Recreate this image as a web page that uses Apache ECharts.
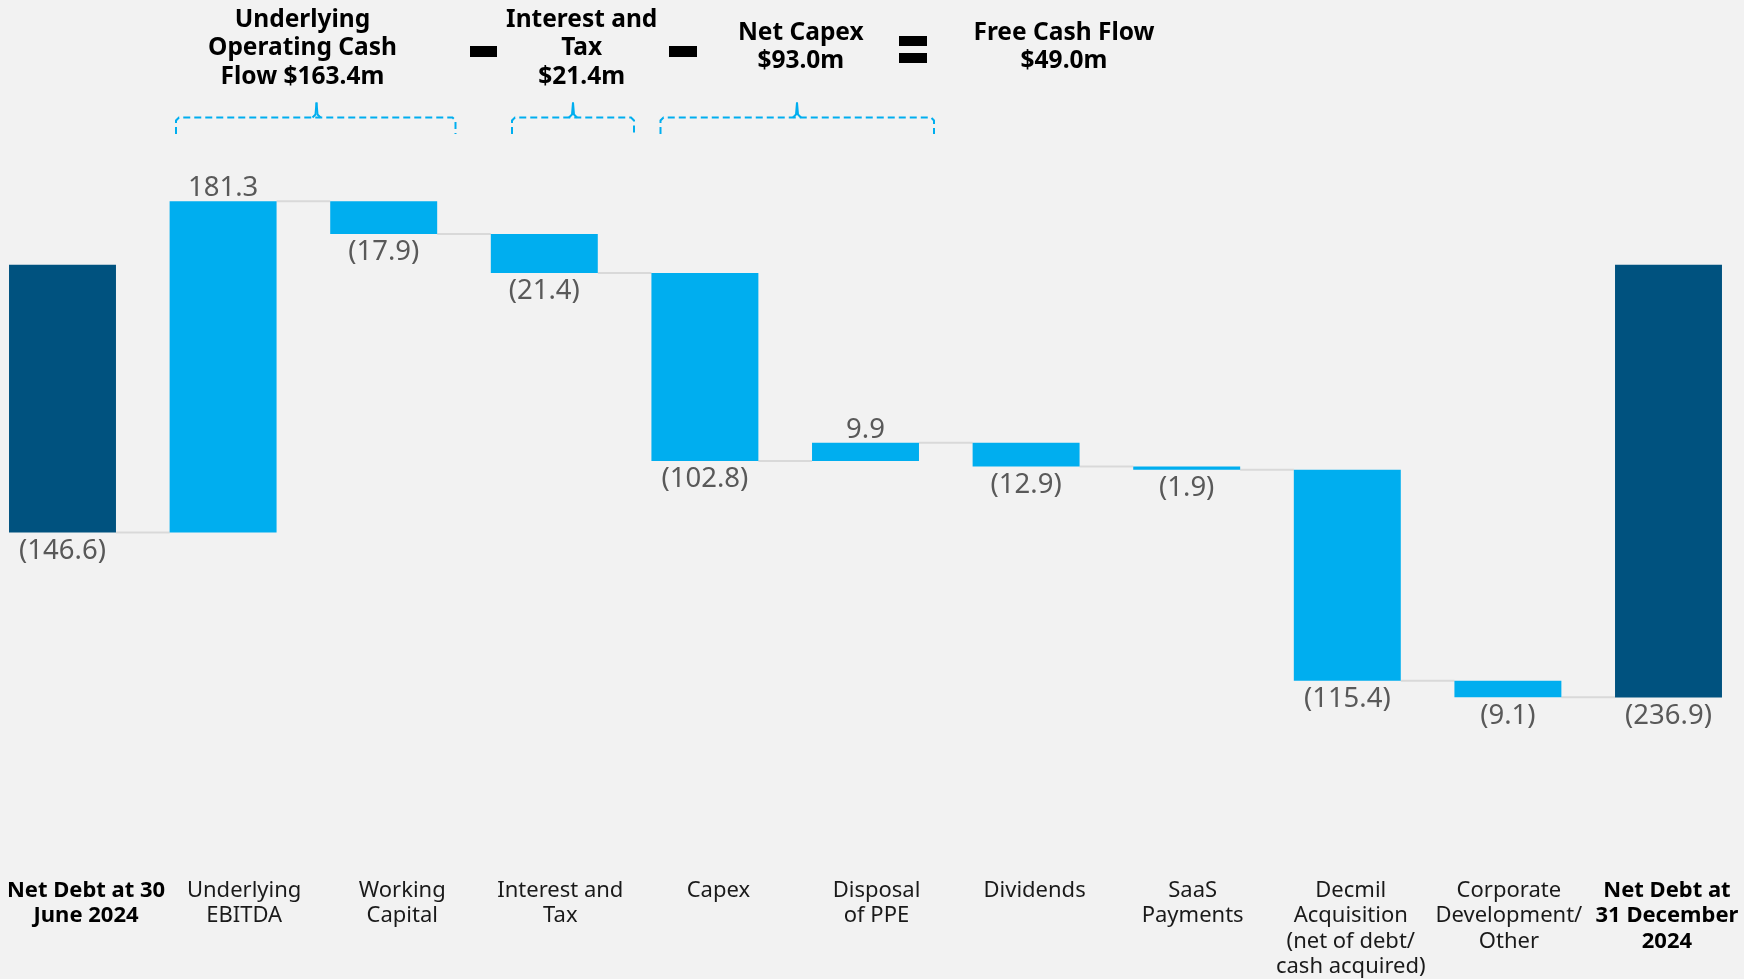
<!DOCTYPE html>
<html>
<head>
<meta charset="utf-8">
<script src="https://cdn.jsdelivr.net/npm/echarts@6/dist/echarts.min.js"></script>
<style>
  html, body { margin: 0; padding: 0; background: #F2F2F2; }
  #chart { width: 1744px; height: 979px; }
</style>
</head>
<body>
<div id="chart"></div>
<script>
// ---- Data ----
const categories = [
  'Net Debt at 30\nJune 2024',
  'Underlying\nEBITDA',
  'Working\nCapital',
  'Interest and\nTax',
  'Capex',
  'Disposal\nof PPE',
  'Dividends',
  'SaaS\nPayments',
  'Decmil\nAcquisition\n(net of debt/\ncash acquired)',
  'Corporate\nDevelopment/\nOther',
  'Net Debt at\n31 December\n2024'
];
const values = [-146.6, 181.3, -17.9, -21.4, -102.8, 9.9, -12.9, -1.9, -115.4, -9.1, -236.9];
const isTotal = [true, false, false, false, false, false, false, false, false, false, true];
const headerBlocks = [
  'Underlying\nOperating Cash\nFlow $163.4m',
  'Interest and\nTax\n$21.4m',
  'Net Capex\n$93.0m',
  'Free Cash Flow\n$49.0m'
];

// ---- Build waterfall rows [index, start, end, value] ----
const rows = [];
let level = 0;
values.forEach((v, i) => {
  let s, e;
  if (isTotal[i]) { s = 0; e = v; }
  else { s = level; e = level + v; }
  level = e;
  rows.push([i, s, e, v]);
});

const LIGHT = '#00AEEF';
const DARK = '#00527F';
const FONT = '"Noto Sans", "DejaVu Sans", sans-serif';

const chart = echarts.init(document.getElementById('chart'));

function fmt(v) {
  return v < 0 ? '(' + Math.abs(v).toFixed(1) + ')' : v.toFixed(1);
}

function renderItem(params, api) {
  const i = api.value(0);
  const s = api.value(1), e = api.value(2), v = api.value(3);
  const band = api.size([1, 0])[0];
  const bw = band * 0.666;
  const p1 = api.coord([i, s]);
  const p2 = api.coord([i, e]);
  const cx = p1[0];
  const top = Math.min(p1[1], p2[1]);
  const bottom = Math.max(p1[1], p2[1]);
  const children = [];
  if (i < rows.length - 1) {
    children.push({
      type: 'line',
      shape: { x1: cx + bw / 2, y1: p2[1], x2: cx + band - bw / 2, y2: p2[1] },
      style: { stroke: '#D9D9D9', lineWidth: 2 }
    });
  }
  children.push({
    type: 'rect',
    shape: { x: cx - bw / 2, y: top, width: bw, height: Math.max(bottom - top, 1) },
    style: { fill: isTotal[i] ? DARK : LIGHT }
  });
  children.push({
    type: 'text',
    style: {
      text: fmt(v),
      x: cx,
      y: v >= 0 ? top - 13 : bottom + 18.5,
      align: 'center',
      verticalAlign: 'middle',
      fill: '#595959',
      font: '27.5px ' + FONT
    }
  });
  return { type: 'group', children };
}

function bracket(x1, x2, xm) {
  const yH = 117.5, yB = 134, yT = 102.5;
  return [
    {
      type: 'polyline',
      shape: { points: [[x1, yB], [x1, yH + 3], [x1 + 3, yH], [x2 - 3, yH], [x2, yH + 3], [x2, yB]] },
      style: { stroke: LIGHT, lineWidth: 2, lineDash: [7, 4], fill: null }
    },
    {
      type: 'polyline',
      shape: { points: [[xm - 4, yH], [xm - 1, yH - 3], [xm, yT]] },
      style: { stroke: LIGHT, lineWidth: 2, fill: null }
    },
    {
      type: 'polyline',
      shape: { points: [[xm + 4, yH], [xm + 1, yH - 3], [xm, yT]] },
      style: { stroke: LIGHT, lineWidth: 2, fill: null }
    }
  ];
}

function headerText(text, x, y) {
  return {
    type: 'text',
    style: {
      text, x, y,
      align: 'center',
      verticalAlign: 'top',
      fill: '#000000',
      font: 'bold 24.5px ' + FONT,
      lineHeight: 28.3
    }
  };
}

const graphics = [
  headerText(headerBlocks[0], 302.5, 6),
  headerText(headerBlocks[1], 581.7, 6),
  headerText(headerBlocks[2], 800.8, 19),
  headerText(headerBlocks[3], 1064, 19),
  { type: 'rect', shape: { x: 470, y: 46, width: 27, height: 11 }, style: { fill: '#000' } },
  { type: 'rect', shape: { x: 669, y: 46, width: 28, height: 11 }, style: { fill: '#000' } },
  { type: 'rect', shape: { x: 899, y: 36, width: 28, height: 10 }, style: { fill: '#000' } },
  { type: 'rect', shape: { x: 899, y: 53, width: 28, height: 10 }, style: { fill: '#000' } }
].concat(bracket(176, 455.5, 316.5), bracket(512, 634, 573), bracket(660.5, 934, 797));

const option = {
  backgroundColor: '#F2F2F2',
  animation: false,
  grid: [
    { left: -17.8, right: -4.8, top: 82, bottom: 129.7, outerBoundsMode: 'none', containLabel: false },
    { left: 7, right: -2, top: 82, bottom: 129.7, outerBoundsMode: 'none', containLabel: false }
  ],
  xAxis: [
    {
      type: 'category', gridIndex: 0, data: categories,
      axisLine: { show: false }, axisTick: { show: false }, axisLabel: { show: false },
      splitLine: { show: false }
    },
    {
      type: 'category', gridIndex: 1, data: categories,
      axisLine: { show: false }, axisTick: { show: false }, splitLine: { show: false },
      axisLabel: {
        show: true,
        interval: 0,
        margin: 28.5,
        hideOverlap: false,
        formatter: function (val, idx) {
          const key = isTotal[idx] ? 'b' : 'n';
          return val.split('\n').map(l => '{' + key + '|' + l + '}').join('\n');
        },
        rich: {
          b: { fontFamily: FONT, fontSize: 22, fontWeight: 'bold', color: '#000', lineHeight: 25.5, align: 'center' },
          n: { fontFamily: FONT, fontSize: 22, fontWeight: 'normal', color: '#1A1A1A', lineHeight: 25.5, align: 'center' }
        }
      }
    }
  ],
  yAxis: [
    { type: 'value', gridIndex: 0, min: -320, max: 100, show: false, splitLine: { show: false } },
    { type: 'value', gridIndex: 1, min: -320, max: 100, show: false, splitLine: { show: false } }
  ],
  series: [
    {
      type: 'custom',
      xAxisIndex: 0,
      yAxisIndex: 0,
      renderItem: renderItem,
      encode: { x: 0, y: [1, 2] },
      clip: false,
      data: rows
    }
  ],
  graphic: graphics
};

chart.setOption(option);
</script>
</body>
</html>
